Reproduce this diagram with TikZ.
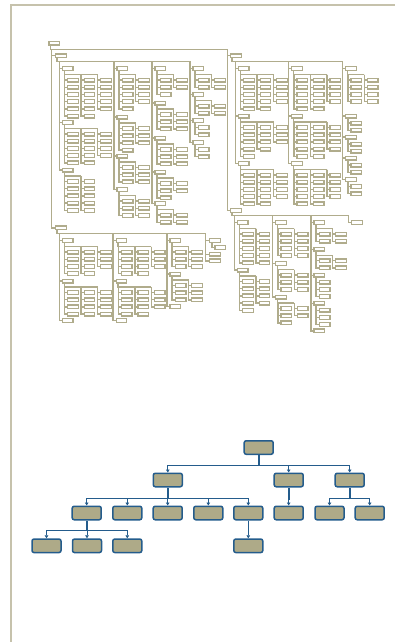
\documentclass[tikz,border=0pt]{standalone}
\usepackage{tikz}
\usetikzlibrary{arrows.meta}

\definecolor{treeline}{RGB}{176,172,140}
\definecolor{pageline}{RGB}{198,194,172}
\definecolor{orgfill}{RGB}{174,170,136}
\definecolor{orgline}{RGB}{36,92,140}

% label box with columns of boxes hanging under it
% #1 name, #2 x, #3 y, #4 offset of first row, #5 rows per column
\newcommand\grp[5]{%
  \node[tb] (#1) at (#2,#3) {};
  \foreach \nr [count=\c] in {#5} {
    \pgfmathsetmacro\bary{#3+max(#4-3,5)}
    \coordinate (#1-t\c) at ({#2+2.8+(\c-1)*16.5},\bary);
    \draw[cn] ([xshift=2.5pt]#1.south west) |- (#1-t\c);
    \foreach \r in {1,...,\nr} {
      \node[tb] (#1-\c-\r) at ({#2+5.3+(\c-1)*16.5},{#3+#4+(\r-1)*7.2}) {};
      \draw[cn] (#1-t\c) |- (#1-\c-\r.west);
    }
  }%
}
% vertical line from a bar to a column of labels
\newcommand\trunk[4]{%
  \coordinate (#1) at (#2,#3);
  \foreach \n in {#4} \draw[cn] (#1) |- (\n.west);%
}

\begin{document}
\begin{tikzpicture}[x=1pt, y=-1pt,
    tb/.style={rectangle, draw=treeline, line width=1.35pt, fill=white, minimum width=10.6pt, minimum height=3.7pt, inner sep=0pt, anchor=north west},
    cn/.style={draw=treeline, line width=1.4pt},
    bb/.style={rectangle, rounded corners=2pt, draw=orgline, fill=orgfill, line width=1.5pt, minimum width=29pt, minimum height=13.5pt, inner sep=0pt},
    arr/.style={-{Triangle[width=3.6pt,length=3pt]}, draw=orgline, line width=1pt},
    stem/.style={draw=orgline, line width=1.8pt}
]
\useasboundingbox (0,0) rectangle (395,642);
\draw[pageline, line width=1.3pt] (11,642) -- (11,5) -- (395,5);

% top chart
\node[tb] (R) at (48.3,40.7) {};
\node[tb] (A) at (55,53.2) {};
\node[tb] (B) at (230,53.2) {};
\node[tb] (C) at (55,225.3) {};
\node[tb] (D) at (230,208) {};

% branch A
\grp{G1}{61.7}{66}{11.5}{6,6,5}
\grp{G2}{61.7}{120}{11.5}{5,5,4}
\grp{G3}{61.7}{167.5}{11.5}{5,5}
\grp{H1}{116.3}{66}{11.5}{5,4}
\grp{H2}{116.3}{114.5}{11.5}{4,3}
\grp{H3}{116.3}{153.5}{11.5}{3,3}
\grp{H4}{116.3}{187}{11.5}{3,3}
\grp{I1}{154.3}{66}{11.5}{3,2}
\grp{I2}{154.3}{100.5}{11.5}{3,3}
\grp{I3}{154.3}{135.5}{11.5}{3,3}
\grp{I4}{154.3}{169.5}{11.5}{3,2}
\grp{I5}{154.3}{201}{11.5}{2,2}
\grp{J1}{192.3}{66}{11.5}{2,2}
\grp{J2}{192.3}{92}{11.5}{2,2}
\grp{J3}{192.3}{118}{7}{2}
\grp{J4}{192.3}{140}{7}{2}
\trunk{A1}{59.2}{61.5}{G1,G2,G3}
\trunk{A2}{113.8}{61.5}{H1,H2,H3,H4}
\trunk{A3}{151.8}{61.5}{I1,I2,I3,I4,I5}
\trunk{A4}{189.8}{61.5}{J1,J2,J3,J4}
\foreach \t in {A1,A2,A3,A4} \draw[cn] ([xshift=2pt]A.south west) |- (\t);

% branch B
\grp{Ba}{237.7}{66}{11.5}{5,5,4}
\grp{Bb}{237.7}{113.5}{11.5}{5,4,3}
\grp{Bc}{237.7}{161}{11.5}{5,5,4}
\grp{Bd}{291}{66}{11.5}{5,5,4}
\grp{Be}{291}{113.5}{11.5}{5,5,4}
\grp{Bf}{291}{161}{11.5}{5,5,4}
\grp{K1}{345}{66}{11.5}{4,4}
\grp{K2}{345}{113.5}{7}{2}
\grp{K3}{345}{134.5}{7}{2}
\grp{K4}{345}{155.5}{7}{2}
\grp{K5}{345}{177}{7}{2}
\trunk{B1}{235.2}{61.7}{Ba,Bb,Bc}
\trunk{B2}{288.5}{61.7}{Bd,Be,Bf}
\trunk{B3}{342.5}{61.7}{K1,K2,K3,K4,K5}
\foreach \t in {B1,B2,B3} \draw[cn] ([xshift=2pt]B.south west) |- (\t);

% branch C
\grp{Ca}{61.7}{238}{11.5}{4,4,3}
\grp{Cb}{61.7}{278.5}{11.5}{4,4,4}
\node[tb] (Cc) at (61.7,318) {};
\grp{Cd}{115.5}{238}{11.5}{4,4,3}
\grp{Ce}{115.5}{278.5}{11.5}{4,4,3}
\node[tb] (Cf) at (115.5,318) {};
\grp{Cg}{169.3}{238}{11.5}{3,3}
\grp{Ch}{169.3}{271.5}{11.5}{3,3}
\node[tb] (Ci) at (169.3,304) {};
\grp{Cj}{209}{238}{7}{1}
\node[tb] (Ck) at (209,251.7) {};
\node[tb] (Cl) at (209,258.3) {};
\trunk{C1}{59.2}{233.3}{Ca,Cb,Cc}
\trunk{C2}{113}{233.3}{Cd,Ce,Cf}
\trunk{C3}{166.8}{233.3}{Cg,Ch,Ci}
\trunk{C4}{205.5}{233.3}{Cj,Ck,Cl}
\foreach \t in {C1,C2,C3,C4} \draw[cn] ([xshift=2pt]C.south west) |- (\t);

% branch D
\grp{Da}{236.7}{220}{11.5}{5,5}
\grp{Db}{236.7}{267.5}{11.5}{5,4}
\grp{Dc}{275}{220}{11.5}{4,4}
\grp{Dd}{275}{261}{11.5}{3,3}
\grp{De}{275}{294.5}{11.5}{3,2}
\grp{Ea}{313.3}{220}{11.5}{2,2}
\grp{Eb}{313.3}{246.7}{11.5}{2,2}
\grp{Ec}{313.3}{272.7}{7}{3}
\grp{Ed}{313.3}{300.7}{7}{3}
\node[tb] (Ee) at (313.3,328.3) {};
\node[tb] (F) at (351,220) {};
\trunk{D1}{234.2}{215.7}{Da,Db}
\trunk{D2}{272.5}{215.7}{Dc,Dd,De}
\trunk{D3}{310.8}{215.7}{Ea,Eb,Ec,Ed,Ee}
\trunk{D4}{348.5}{215.7}{F}
\foreach \t in {D1,D2,D3,D4} \draw[cn] ([xshift=2pt]D.south west) |- (\t);

% root
\coordinate (Rl) at (51.5,49.3);
\coordinate (Rr) at (227.7,49.3);
\draw[cn] ([xshift=2pt]R.south west) |- (Rr);
\draw[cn] (Rl) |- (A.west);
\draw[cn] (Rl) |- (C.west);
\draw[cn] (Rr) |- (B.west);
\draw[cn] (Rr) |- (D.west);

% bottom chart
\node[bb] (head) at (258.7,447.5) {};
\node[bb] (ua) at (167.8,480) {};
\node[bb] (ub) at (288.7,480) {};
\node[bb] (uc) at (349.7,480) {};
\node[bb] (va) at (86.7,513) {};
\node[bb] (vb) at (127.3,513) {};
\node[bb] (vc) at (167.7,513) {};
\node[bb] (vd) at (208.3,513) {};
\node[bb] (ve) at (248.3,513) {};
\node[bb] (vf) at (288.7,513) {};
\node[bb] (vg) at (329.5,513) {};
\node[bb] (vh) at (369.7,513) {};
\node[bb] (wa) at (46.5,545.8) {};
\node[bb] (wb) at (87,545.8) {};
\node[bb] (wc) at (127.3,545.8) {};
\node[bb] (wd) at (248.3,545.8) {};

\foreach \k in {ua,ub,uc} \draw[arr] (head.south) -- ++(0,10) -| (\k.north);
\foreach \k in {va,vb,vc,vd,ve} \draw[arr] (ua.south) -- ++(0,10.5) -| (\k.north);
\draw[arr] (ub.south) -- (vf.north);
\foreach \k in {vg,vh} \draw[arr] (uc.south) -- ++(0,10.5) -| (\k.north);
\foreach \k in {wa,wb,wc} \draw[arr] (va.south) -- ++(0,10) -| (\k.north);
\draw[arr] (ve.south) -- (wd.north);
\foreach \k in {head,ua,uc,va} \draw[stem] (\k.south) -- ++(0,10);
\draw[stem] (ub.south) -- ++(0,12);

\end{tikzpicture}
\end{document}
